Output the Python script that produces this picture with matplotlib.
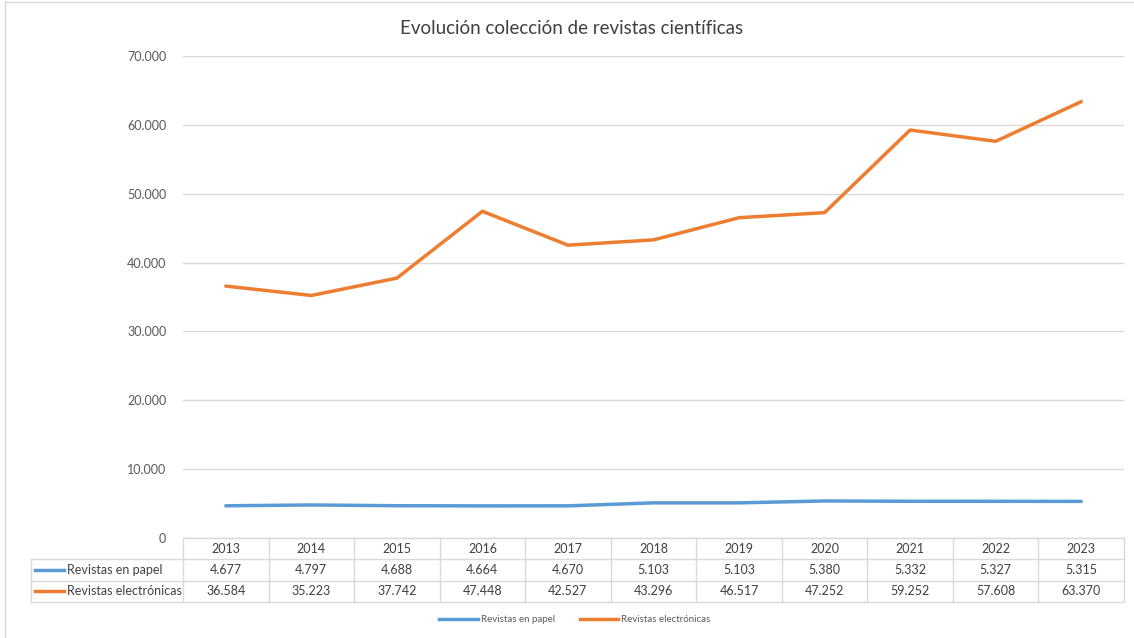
import matplotlib
matplotlib.use("Agg")
import matplotlib.pyplot as plt
from matplotlib.ticker import FuncFormatter
from matplotlib.lines import Line2D

plt.rcParams['font.family'] = ['Lato', 'DejaVu Sans']

# datos
years = ['2013', '2014', '2015', '2016', '2017', '2018', '2019', '2020', '2021', '2022', '2023']
papel = [4677, 4797, 4688, 4664, 4670, 5103, 5103, 5380, 5332, 5327, 5315]
electronicas = [36584, 35223, 37742, 47448, 42527, 43296, 46517, 47252, 59252, 57608, 63370]
series_names = ['Revistas en papel', 'Revistas electrónicas']
colors = ['#5B9BD5', '#ED7D31']
title = 'Evolución colección de revistas científicas'

W, H = 1134, 638
fig = plt.figure(figsize=(W / 100, H / 100), dpi=100)

# plot area in pixels
left, right, top, bottom = 183, 1124, 56, 538
ax = fig.add_axes([left / W, 1 - bottom / H, (right - left) / W, (bottom - top) / H])

x = list(range(len(years)))
ax.plot(x, papel, color=colors[0], lw=2.5, solid_capstyle='round', zorder=3)
ax.plot(x, electronicas, color=colors[1], lw=2.5, solid_capstyle='round', zorder=3)

ax.set_xlim(-0.5, len(years) - 0.5)
ax.set_ylim(0, 70000)
ax.set_yticks(range(0, 70001, 10000))
ax.yaxis.set_major_formatter(FuncFormatter(lambda v, p: f'{int(v):,}'.replace(',', '.')))
ax.tick_params(axis='y', length=0, pad=12, labelsize=9, labelcolor='#595959')
ax.set_xticks([])
ax.grid(axis='y', color='#d9d9d9', lw=1)
ax.set_axisbelow(True)
for s in ax.spines.values():
    s.set_visible(False)

# data table below the axes
px = 1.0 / (bottom - top)  # one pixel in axes-y units
row_h = 21.3 * px
grid_c = '#d9d9d9'
tr = ax.get_xaxis_transform()
lab_left = -0.5 - (left - 31) / ((right - left) / len(years))  # in data units
# horizontal lines
y_lines = [0, -row_h, -2 * row_h, -3 * row_h]
for i, yy in enumerate(y_lines):
    x0 = -0.5 if i == 0 else lab_left
    ax.add_line(Line2D([x0, len(years) - 0.5], [yy, yy], transform=tr, color=grid_c, lw=1, clip_on=False))
# vertical lines
for i in range(len(years) + 1):
    ax.add_line(Line2D([i - 0.5, i - 0.5], [0, -3 * row_h], transform=tr, color=grid_c, lw=1, clip_on=False))
ax.add_line(Line2D([lab_left, lab_left], [-row_h, -3 * row_h], transform=tr, color=grid_c, lw=1, clip_on=False))

def fmt(v):
    return f'{v:,}'.replace(',', '.')

for i, yr in enumerate(years):
    ax.text(i, -0.5 * row_h, yr, transform=tr, ha='center', va='center', fontsize=9, color='#404040')
    ax.text(i, -1.5 * row_h, fmt(papel[i]), transform=tr, ha='center', va='center', fontsize=9, color='#404040')
    ax.text(i, -2.5 * row_h, fmt(electronicas[i]), transform=tr, ha='center', va='center', fontsize=9, color='#404040')

for r, (name, c) in enumerate(zip(series_names, colors)):
    yy = -(1.5 + r) * row_h
    ax.add_line(Line2D([lab_left + 0.05, lab_left + 0.38], [yy, yy], transform=tr, color=c, lw=2.5, clip_on=False))
    ax.text(lab_left + 0.42, yy, name, transform=tr, ha='left', va='center', fontsize=9, color='#404040')

# title
fig.text(572 / W, 1 - 28 / H, title, ha='center', va='center', fontsize=13.5, color='#404040')

# legend at bottom
handles = [Line2D([], [], color=c, lw=2.5) for c in colors]
fig.legend(handles, series_names, loc='center', bbox_to_anchor=(575 / W, 1 - 620 / H), ncol=2,
           frameon=False, fontsize=7, handlelength=4, columnspacing=2.5, handletextpad=0.3,
           labelcolor='#595959')

# chart border
fig.add_artist(Line2D([5 / W, 5 / W], [0, 1 - 1 / H], transform=fig.transFigure, color='#d9d9d9', lw=1))
fig.add_artist(Line2D([5 / W, 1], [1 - 1.5 / H, 1 - 1.5 / H], transform=fig.transFigure, color='#d9d9d9', lw=1))

fig.savefig('out.png', dpi=100)
